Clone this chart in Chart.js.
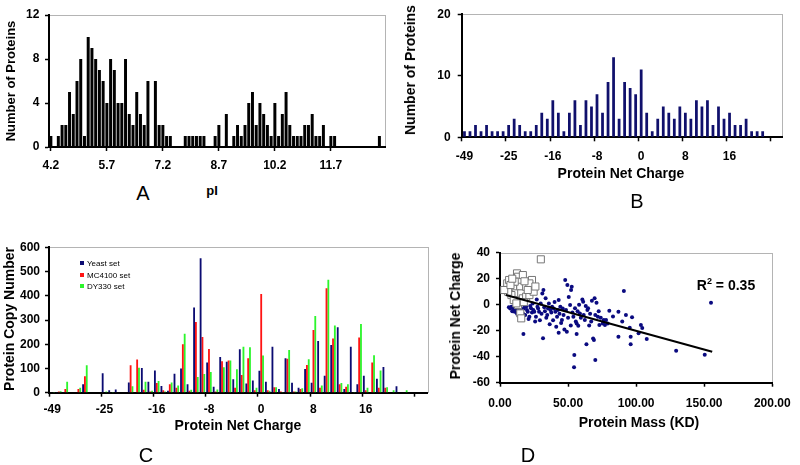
<!DOCTYPE html>
<html><head><meta charset="utf-8">
<script src="https://cdn.jsdelivr.net/npm/chart.js@4.4.1/dist/chart.umd.min.js"></script>
<style>
html,body{margin:0;padding:0;background:#fff}
body{width:800px;height:465px;position:relative;overflow:hidden;font-family:"Liberation Sans",Arial,sans-serif;color:#000}
canvas{position:absolute}
.t{position:absolute;white-space:nowrap;font-weight:bold;font-size:14px;line-height:1;transform:translate(-50%,-50%)}
.v{transform:translate(-50%,-50%) rotate(-90deg)}
.p{position:absolute;font-size:20px;line-height:1;transform:translate(-50%,-50%)}
#legC{position:absolute;left:80px;top:258px;font-size:8px;line-height:11.7px;font-weight:normal}
#legC div{white-space:nowrap}
#legC i{display:inline-block;width:4px;height:4px;margin-right:3px;vertical-align:1px}
sup{font-size:9px;vertical-align:6px;line-height:0}
</style></head>
<body>
<canvas id="cA" width="400" height="180" style="left:0px;top:0px"></canvas>
<canvas id="cB" width="400" height="180" style="left:400px;top:0px"></canvas>
<canvas id="cC" width="440" height="200" style="left:0px;top:230px"></canvas>
<canvas id="cD" width="360" height="200" style="left:440px;top:230px"></canvas>
<div class="t v" style="left:10px;top:81px;font-size:13px">Number of Proteins</div>
<div class="t" style="left:212px;top:190px;font-size:13px">pI</div>
<div class="p" style="left:143px;top:193px">A</div>
<div class="t v" style="left:410px;top:70px">Number of Proteins</div>
<div class="t" style="left:621px;top:173px">Protein Net Charge</div>
<div class="p" style="left:637px;top:201px">B</div>
<div class="t v" style="left:9px;top:319px">Protein Copy Number</div>
<div class="t" style="left:238px;top:425px">Protein Net Charge</div>
<div class="p" style="left:146px;top:455px">C</div>
<div class="t v" style="left:455px;top:316px">Protein Net Charge</div>
<div class="t" style="left:639px;top:422px">Protein Mass (KD)</div>
<div class="p" style="left:528px;top:455px">D</div>
<div class="t" style="left:726px;top:285px">R<sup>2</sup> = 0.35</div>
<div id="legC"></div>
<script>
// ---------- Panel A : pI histogram ----------
const pIBins = [4.2,4.3,4.4,4.5,4.6,4.7,4.8,4.9,5.0,5.1,5.2,5.3,5.4,5.5,5.6,5.7,5.8,5.9,6.0,6.1,6.2,6.3,6.4,6.5,6.6,6.7,6.8,6.9,7.0,7.1,7.2,7.3,7.4,7.5,7.6,7.7,7.8,7.9,8.0,8.1,8.2,8.3,8.4,8.5,8.6,8.7,8.8,8.9,9.0,9.1,9.2,9.3,9.4,9.5,9.6,9.7,9.8,9.9,10.0,10.1,10.2,10.3,10.4,10.5,10.6,10.7,10.8,10.9,11.0,11.1,11.2,11.3,11.4,11.5,11.6,11.7,11.8,11.9,12.0,12.1,12.2,12.3,12.4,12.5,12.6,12.7,12.8,12.9,13.0,13.1];
const pICounts = [1,0,1,2,2,5,3,6,8,1, 10,9,8,7,6,4,8,7,4,4, 8,3,2,5,3,2,6,0,6,2, 2,1,1,0,0,0,1,1,1,1, 1,1,0,0,1,2,0,3,0,1, 2,1,2,4,5,2,4,3,2,1, 4,1,3,5,2,1,1,1,2,2, 3,1,1,2,0,1,1,0,0,0, 0,0,0,0,0,0,0,0,1,0];
const pITickLabels = ['4.2','5.7','7.2','8.7','10.2','11.7'];

// ---------- Panels B & C : net charge categories ----------
const chargeCategories = [-49,-42,-38,-35,-33,-31,-29,-27,-25,-24,-23,-22,-21,-20,-19,-18,-16,-15,-14,-13,-12,-11,-10,-9,-8,-7,-6,-5,-4,-3,-2,-1,0,1,2,3,4,5,6,7,8,9,10,11,12,13,14,15,16,17,18,19,20,21,22,23,24,25];
const chargeTickLabels = ['-49','-25','-16','-8','0','8','16'];
const chargeCounts = [1,1,2,1,2,1,1,1,2,3,2,1,1,2,4,3,6,4,1,4,6,2,6,5,7, 4,9,13,3,9,8,7,11,4,1,3,5,4,3,5,4,3,6,5,6,2,5,3,4,2,2,3,1,1,1, 0,0,0];

const seriesNames = ['Yeast set','MC4100 set','DY330 set'];
const yeastCopies  = [0,3,3,0,0,35,0,0,80,10,13,0,42,0,102,45,92,28,8,78,100,35,352,555,125,25,147,128,56,179,38,50,91,45,190,15,142,41,20,98,41,213,70,197,270,15,190,35,70,0,58,106,0,27,0,0,0,0];
const mc4100Copies = [2,5,15,0,15,68,0,0,0,0,0,0,113,137,12,5,40,10,35,20,200,8,292,230,180,5,130,133,20,73,142,10,407,10,22,5,140,5,15,114,259,20,431,224,35,25,0,228,10,125,20,20,0,0,0,0,0,0];
const dy330Copies  = [3,6,45,0,20,113,0,0,5,3,0,0,27,103,45,8,48,5,42,30,243,12,65,77,85,13,105,133,97,190,188,20,153,8,22,3,176,5,18,138,316,30,466,277,40,35,3,283,20,155,92,22,10,0,10,0,0,0];

// ---------- Panel D : net charge vs mass ----------
const dotMass = [6.5,7.5,8.4,9,10,10.8,11.5,12,12.5,13,14,14.5,15.6,16,16.8,17.2,17.5,18,18.5,19.2,19.8,20.4,21,21.6,22.2,22.8,23.5,24,24.5,25.2,25.8,26.4,27,27.5,28,28.7,29.3,29.9,30.5,
 31.1,31.6,31.9,32.5,33,33.5,34,34.7,35.3,35.9,36.5,37.1,37.7,38.3,39,39.5,40.1,40.7,41.3,41.9,42.5,43.1,43.1,43.7,44.3,44.9,45.5,46.1,46.7,47.3,47.9,48.5,49.1,49.5,50,50.5,51.5,52,52.2,52.7,53.2,53.9,54.4,54.6,55.1,55.7,56.3,56.3,57,57.5,58.1,58.7,59.4,
 60.5,61.1,61.5,62.3,63,63.5,64.2,64.7,65.5,66.2,67,67.5,68.4,69,69.5,70,70,70.9,71.9,72.5,73,74,75.5,76.2,77.1,77.9,79.1,80.3,83,87,87,89.8,91,92.5,95.3,96,96,97,101.8,103.5,104.5,107.8,129.4,150.4,155];
const dotCharge = [-2,-3,-1.5,-5,-3,-5.4,-2,-2.8,-7,-4,-1,-6,-4.1,-9,-6.7,-22.6,-3,-1,-8,-1.5,-4,-5.4,-11,-9.2,-1,-2.8,-6,1,-4,-5.4,-13,-9.2,4,-1.5,-3,-5.4,-12,1,-7,
 8.7,-25.9,11.3,-2,-5,4.9,-10,-8,-3,1,-15,-4.1,-6,-1.5,-12,-3,2,-5.4,-17,-9.2,-4,3.6,-21.5,-7,-1.5,-14,-11.8,-3,-8,-19,19,-4,-20.8,15.1,-10,6,-0.2,-16,11.3,13.8,-6,-9.2,-48.2,-38.7,-2.8,-13,-14.4,-22.6,-5,-16.2,0,-6.7,-10,
 4,2.3,-8,-11.8,-1,-30.5,-4,-2.8,-16,-7,-13,3,-26,-27.2,4.9,-42.6,-8,1.5,-9.2,-5,-15.6,-10,-14.4,-11.8,-15.6,-11.8,-14.4,-4.6,-9,-5.4,-24.6,-13,10.5,-8,-17.7,-24.6,-30.5,-9.7,-22,-15.6,-18,-26.4,-35.4,-38.5,1.5];
const squareMass = [4.3,5.3,6.7,9.6,12.5,13.2,13.9,14.9,11.5,15.6,8.4,16.8,19.2,21.6,23.5,24.7,19.2,21.6,10.1,13.2,14.9,15.6,6,3.1,16.8,10.8,7.7,20.4,30,12,17.5,9,18,26];
const squareCharge = [11.3,16.4,19,13.8,24.1,21.5,17.7,13.8,8.7,8.7,7.4,4.9,6.2,7.4,19,10,13.8,16.4,3.6,-0.3,-6.7,-10.5,10,11.3,22.8,17.7,15.1,11.3,34.9,1,2,20,18,14];
const trendMass = [4.3,155.9];
const trendCharge = [7.5,-36.2];

// ---------- helpers ----------
Chart.defaults.font.family = '"Liberation Sans", Arial, sans-serif';
Chart.defaults.font.size = 12;
Chart.defaults.font.weight = 'bold';
Chart.defaults.color = '#000';

const frame = {id:'frame', beforeDraw(c){
  const a = c.chartArea, x = c.ctx; x.save(); x.strokeStyle = '#b4b4b4'; x.lineWidth = 1;
  x.strokeRect(Math.round(a.left)+0.5, Math.round(a.top)+0.5, Math.round(a.width), Math.round(a.height)); x.restore(); }};

function yAxis(min, max, step, w, pad){
  return {min, max, afterFit(s){ s.width = w; },
    ticks:{stepSize:step, padding:pad, color:'#000', font:{size:12, weight:'bold'}},
    grid:{drawOnChartArea:false, tickLength:4, tickWidth:1.5, tickColor:'#000'},
    border:{color:'#000', width:2}};
}
function catAxis(every, labels, nMarks, h, pad, gridOffset){
  return {type:'category', offset:true, afterFit(s){ s.height = h; },
    ticks:{autoSkip:false, maxRotation:0, minRotation:0, padding:pad, color:'#000', font:{size:12, weight:'bold'},
      callback:(v, i) => (i % every === 0 && i / every < labels.length) ? labels[i / every] : ''},
    grid:{drawOnChartArea:false, offset:gridOffset, tickLength:4, tickWidth:1.5,
      tickColor:(ctx) => (typeof ctx.index === 'number' && ctx.index % every === 0 && ctx.index / every < nMarks) ? '#000' : 'rgba(0,0,0,0)'},
    border:{color:'#000', width:2}};
}
const base = (pad) => ({responsive:false, animation:false, layout:{padding:pad},
  plugins:{legend:{display:false}, tooltip:{enabled:false}}});

// ---------- Panel A ----------
new Chart(document.getElementById('cA'), {type:'bar',
  data:{labels:pIBins, datasets:[{data:pICounts, backgroundColor:'#000', barPercentage:0.8, categoryPercentage:1}]},
  options:Object.assign(base({left:0, top:15, right:15, bottom:0}), {
    scales:{x:catAxis(15, pITickLabels, 6, 33, 7.8, false), y:yAxis(0, 12, 4, 49, 5.7)}}),
  plugins:[frame]});

// ---------- Panel B ----------
new Chart(document.getElementById('cB'), {type:'bar',
  data:{labels:chargeCategories, datasets:[{data:chargeCounts, backgroundColor:'#10106c', barPercentage:0.5, categoryPercentage:1}]},
  options:Object.assign(base({left:0, top:10, right:18, bottom:0}), {
    scales:{x:catAxis(8, chargeTickLabels, 8, 42.7, 8.5, true), y:yAxis(0, 20, 10, 61.7, 7)}}),
  plugins:[frame]});

// ---------- Panel C ----------
const colorsC = ['#0b0b72', '#ff1414', '#2cf52c'];
const copiesC = [yeastCopies, mc4100Copies, dy330Copies];
new Chart(document.getElementById('cC'), {type:'bar',
  data:{labels:chargeCategories, datasets:seriesNames.map((n, k) => ({label:n, data:copiesC[k], backgroundColor:colorsC[k], barPercentage:1, categoryPercentage:0.84}))},
  options:Object.assign(base({left:0, top:17.3, right:12.3, bottom:0}), {
    scales:{x:catAxis(8, chargeTickLabels, 8, 37.3, 6.1, true), y:yAxis(0, 600, 100, 49, 5)}}),
  plugins:[frame]});
document.getElementById('legC').innerHTML = seriesNames.map((n, k) => '<div><i style="background:' + colorsC[k] + '"></i>' + n + '</div>').join('');

// ---------- Panel D ----------
const dots = dotMass.map((m, i) => ({x:m, y:dotCharge[i]}));
const squares = squareMass.map((m, i) => ({x:m, y:squareCharge[i]}));
const trend = trendMass.map((m, i) => ({x:m, y:trendCharge[i]}));
new Chart(document.getElementById('cD'), {type:'scatter',
  data:{datasets:[
    {data:trend, showLine:true, borderColor:'#000', borderWidth:2, pointRadius:0},
    {data:squares, pointStyle:'rect', pointRadius:5, backgroundColor:'#fff', borderColor:'#777', borderWidth:1},
    {data:dots, pointRadius:2, backgroundColor:'#0a0a80', borderWidth:0}
  ]},
  options:Object.assign(base({left:0, top:22.7, right:21.7, bottom:0}), {
    scales:{
      x:{type:'linear', min:0, max:200, afterFit(s){ s.height = 47.3; },
        ticks:{stepSize:50, padding:9.4, color:'#000', font:{size:12, weight:'bold'}, callback:v => v.toFixed(2)},
        grid:{drawOnChartArea:false, tickLength:4, tickWidth:1.5, tickColor:'#000'},
        border:{color:'#000', width:2}},
      y:yAxis(-60, 40, 20, 60, 6)}}),
  plugins:[frame]});
</script>
</body></html>
